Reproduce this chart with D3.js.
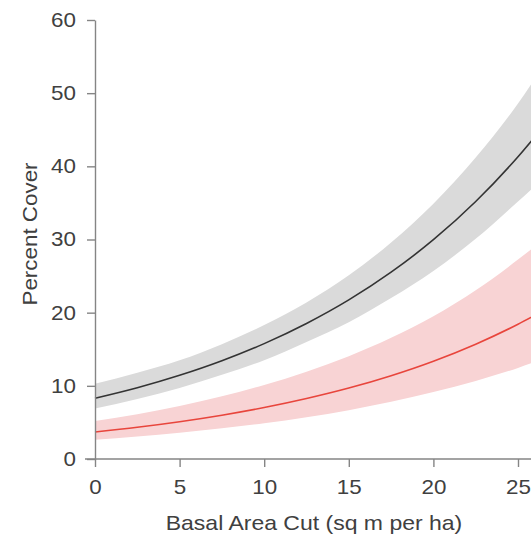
<!DOCTYPE html>
<html>
<head>
<meta charset="utf-8">
<script src="https://cdn.jsdelivr.net/npm/d3@7"></script>
<style>
  html, body { margin: 0; padding: 0; background: #fff; }
  svg { display: block; }
</style>
</head>
<body>
<svg id="chart" width="531" height="534"></svg>
<script>
// Data
const basalArea = [0, 2.5, 5, 7.5, 10, 12.5, 15, 17.5, 20, 22.5, 25, 26];

const grayFit   = [8.3, 9.74, 11.44, 13.43, 15.77, 18.52, 21.74, 25.53, 29.97, 35.19, 41.32, 44.05];
const grayUpper = [10.3, 11.8, 13.5, 15.7, 18.3, 21.4, 25.1, 29.6, 34.9, 41.2, 48.6, 52.0];
const grayLower = [6.9, 8.2, 9.7, 11.5, 13.5, 16.0, 18.7, 22.0, 25.7, 30.1, 35.2, 37.3];

const redFit    = [3.70, 4.34, 5.10, 5.99, 7.03, 8.26, 9.69, 11.38, 13.36, 15.69, 18.42, 19.64];
const redUpper  = [5.18, 6.12, 7.24, 8.57, 10.12, 11.94, 14.05, 16.56, 19.51, 23.06, 27.26, 29.07];
const redLower  = [2.64, 3.08, 3.59, 4.19, 4.88, 5.72, 6.68, 7.82, 9.15, 10.67, 12.45, 13.27];

const xTicks = [0, 5, 10, 15, 20, 25];
const yTicks = [0, 10, 20, 30, 40, 50, 60];

const svg = d3.select("#chart");
const x = d3.scaleLinear().domain([0, 25]).range([95, 518]);
const y = d3.scaleLinear().domain([0, 60]).range([459, 20]);

const rows = (fit, lo, hi) => basalArea.map((b, i) => ({ b, fit: fit[i], lo: lo[i], hi: hi[i] }));
const series = [
  { data: rows(grayFit, grayLower, grayUpper), band: "#dadada", line: "#333333" },
  { data: rows(redFit, redLower, redUpper), band: "#f8d3d4", line: "#e8453c" }
];

const area = d3.area().curve(d3.curveMonotoneX)
  .x(d => x(d.b)).y0(d => y(d.lo)).y1(d => y(d.hi));
const line = d3.line().curve(d3.curveMonotoneX)
  .x(d => x(d.b)).y(d => y(d.fit));

series.forEach(s => {
  svg.append("path").datum(s.data).attr("d", area).attr("fill", s.band);
});
series.forEach(s => {
  svg.append("path").datum(s.data).attr("d", line)
    .attr("fill", "none").attr("stroke", s.line).attr("stroke-width", 1.6);
});

const axisColor = "#858585";
const textColor = "#404040";
const font = "'Liberation Sans', Arial, sans-serif";
const stretch = 1.12;

const xAxis = svg.append("g").attr("transform", "translate(0,459)")
  .call(d3.axisBottom(x).tickValues(xTicks).tickSize(8).tickSizeOuter(0));
xAxis.select(".domain").attr("d", "M85,0H531");
xAxis.selectAll(".tick text")
  .attr("y", 35).attr("dy", null)
  .attr("transform", `scale(${stretch},1)`);

const yAxis = svg.append("g").attr("transform", "translate(95,0)")
  .call(d3.axisLeft(y).tickValues(yTicks).tickSize(8).tickSizeOuter(0));
yAxis.selectAll(".tick text")
  .attr("x", -19 / stretch)
  .attr("transform", `scale(${stretch},1)`);

[xAxis, yAxis].forEach(g => {
  g.selectAll(".domain").attr("stroke", axisColor).attr("stroke-width", 1.4);
  g.selectAll(".tick line").attr("stroke", axisColor).attr("stroke-width", 1.4);
  g.selectAll(".tick text").attr("fill", textColor)
    .style("font-family", font).style("font-size", "20px");
});

svg.append("text")
  .attr("transform", `translate(314,530) scale(1.15,1)`)
  .attr("text-anchor", "middle")
  .attr("fill", textColor)
  .style("font-family", font).style("font-size", "20px")
  .text("Basal Area Cut (sq m per ha)");

svg.append("text")
  .attr("transform", `translate(37,234) rotate(-90) scale(${stretch},1)`)
  .attr("text-anchor", "middle")
  .attr("fill", textColor)
  .style("font-family", font).style("font-size", "20px")
  .text("Percent Cover");
</script>
</body>
</html>
